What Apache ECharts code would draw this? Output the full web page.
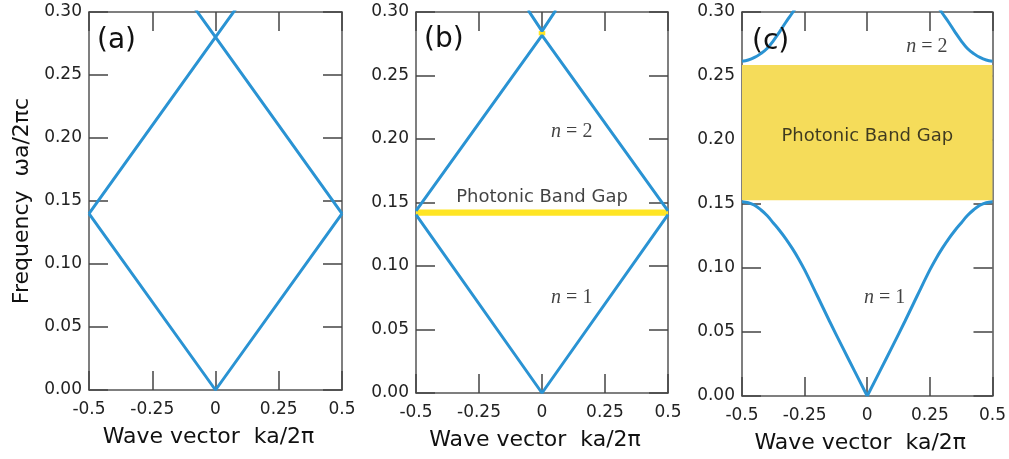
<!DOCTYPE html>
<html>
<head>
<meta charset="utf-8">
<script src="https://cdn.jsdelivr.net/npm/echarts@6/dist/echarts.min.js"></script>
<style>html,body{margin:0;padding:0;background:#fff}#c{width:1009px;height:459px}</style>
</head>
<body>
<div id="c"></div>
<script>
// ---------- data ----------
const xTicks = [-0.5, -0.25, 0, 0.25, 0.5];
const yTicks = [0, 0.05, 0.10, 0.15, 0.20, 0.25, 0.30];

// (a) empty lattice
const kA12 = [-0.5, 0, 0.5];
const wA1 = [0.14, 0, 0.14];
const wA2 = [0.14, 0.28, 0.14];
const kA3 = [-0.08, 0, 0.08];
const wA3 = [0.3024, 0.28, 0.3024];

// (b) weak contrast
const kB12 = [-0.5, 0, 0.5];
const wB1 = [0.1405, 0, 0.1405];
const wB2 = [0.1435, 0.2816, 0.1435];
const kB3 = [-0.055, 0, 0.055];
const wB3 = [0.3015, 0.285, 0.3015];
const gapB1 = [0.1395, 0.1445];
const gapB1k = [-0.5, 0.5];
const gapB2 = [0.2816, 0.285];
const gapB2k = [-0.013, 0.013];

// (c) strong contrast
const kC1L = [-0.5, -0.475, -0.45, -0.425, -0.4, -0.375, -0.35, -0.325, -0.3, -0.275, -0.25, -0.2, -0.15, -0.1, -0.05, 0];
const wC1L = [0.1518, 0.1510, 0.1490, 0.1455, 0.1410, 0.1352, 0.1293, 0.1228, 0.1155, 0.1075, 0.0985, 0.0785, 0.0582, 0.0386, 0.0192, 0];
const kC1R = [0, 0.05, 0.1, 0.15, 0.2, 0.25, 0.275, 0.3, 0.325, 0.35, 0.375, 0.4, 0.425, 0.45, 0.475, 0.5];
const wC1R = [0, 0.0192, 0.0386, 0.0582, 0.0785, 0.0985, 0.1075, 0.1155, 0.1228, 0.1293, 0.1352, 0.1410, 0.1455, 0.1490, 0.1510, 0.1518];
const kC2L = [-0.5, -0.475, -0.45, -0.425, -0.4, -0.375, -0.35, -0.325, -0.3, -0.28];
const wC2L = [0.2615, 0.2625, 0.2645, 0.2675, 0.2715, 0.2775, 0.2845, 0.292, 0.299, 0.305];
const kC2R = [0.28, 0.3, 0.325, 0.35, 0.375, 0.4, 0.425, 0.45, 0.475, 0.5];
const wC2R = [0.305, 0.299, 0.292, 0.2845, 0.2775, 0.2715, 0.2675, 0.2645, 0.2625, 0.2615];
const gapC = [0.153, 0.2585];
const gapCk = [-0.5, 0.5];

// ---------- helpers ----------
const pairs = (k, w) => k.map((x, i) => [x, w[i]]);
const BLUE = '#2a93d3';
const FRAME = '#555';
const FONT = 'DejaVu Sans';

const grids = [
  {left: 89, top: 12, width: 253, height: 378},
  {left: 416, top: 12, width: 252, height: 381},
  {left: 742, top: 12, width: 251, height: 384}
];

const xAxes = [], yAxes = [];
grids.forEach((g, gi) => {
  const base = {
    type: 'value', gridIndex: gi, min: -0.5, max: 0.5, interval: 0.25,
    axisLine: {show: true, onZero: false, lineStyle: {color: FRAME, width: 1.5}},
    axisTick: {show: true, inside: true, length: 19, lineStyle: {color: '#444', width: 1.5}},
    splitLine: {show: false}
  };
  xAxes.push(Object.assign({}, base, {
    position: 'bottom',
    axisLabel: {show: true, margin: 11, fontFamily: FONT, fontSize: 17, color: '#222',
      formatter: v => (Math.abs(v) < 1e-9 ? '0' : String(v))},
    name: 'Wave vector  ka/2\u03c0', nameLocation: 'middle', nameGap: 36,
    nameTextStyle: {fontFamily: FONT, fontSize: 22, color: '#111', padding: [0, 14, 0, 0]}
  }));
  xAxes.push(Object.assign({}, base, {position: 'top', axisLabel: {show: false}}));
  const ybase = {
    type: 'value', gridIndex: gi, min: 0, max: 0.3, interval: 0.05,
    axisLine: {show: true, onZero: false, lineStyle: {color: FRAME, width: 1.5}},
    axisTick: {show: true, inside: true, length: 19, lineStyle: {color: '#444', width: 1.5}},
    splitLine: {show: false}
  };
  const yl = Object.assign({}, ybase, {
    position: 'left',
    axisLabel: {show: true, margin: 7, fontFamily: FONT, fontSize: 17, color: '#222',
      formatter: v => v.toFixed(2)}
  });
  if (gi === 0) {
    yl.name = 'Frequency  \u03c9a/2\u03c0c';
    yl.nameLocation = 'middle';
    yl.nameGap = 56;
    yl.nameTextStyle = {fontFamily: FONT, fontSize: 22, color: '#111'};
  }
  yAxes.push(yl);
  yAxes.push(Object.assign({}, ybase, {position: 'right', axisLabel: {show: false}}));
});

function band(gi, data, smooth) {
  return {
    type: 'line', xAxisIndex: gi * 2, yAxisIndex: gi * 2, data: data,
    showSymbol: false, symbol: 'none', smooth: smooth ? 0.4 : false, clip: true, z: 3,
    lineStyle: {color: BLUE, width: 3}, silent: true, animation: false
  };
}
function gap(gi, krange, range, color) {
  return {
    type: 'line', xAxisIndex: gi * 2, yAxisIndex: gi * 2, data: [], z: 1,
    silent: true, animation: false,
    markArea: {silent: true, itemStyle: {color: color, opacity: 1},
      data: [[{xAxis: krange[0], yAxis: range[0]}, {xAxis: krange[1], yAxis: range[1]}]]}
  };
}
function note(gi, pt, text, serif) {
  return {
    type: 'scatter', xAxisIndex: gi * 2, yAxisIndex: gi * 2, data: [pt],
    symbolSize: 0, z: 5, silent: true, animation: false,
    label: serif ? {
      show: true, position: 'inside', formatter: text,
      fontFamily: 'Liberation Serif', fontSize: 20, color: '#111',
      rich: {i: {fontFamily: 'Liberation Serif', fontStyle: 'italic', fontSize: 20, color: '#111'}}
    } : {
      show: true, position: 'inside', formatter: text,
      fontFamily: FONT, fontSize: 18, color: '#111'
    }
  };
}

const series = [
  gap(1, gapB1k, gapB1, '#ffe524'),
  gap(1, gapB2k, gapB2, '#ffe524'),
  gap(2, gapCk, gapC, '#f5dc5a'),
  band(0, pairs(kA12, wA1)),
  band(0, pairs(kA12, wA2)),
  band(0, pairs(kA3, wA3)),
  band(1, pairs(kB12, wB1)),
  band(1, pairs(kB12, wB2)),
  band(1, pairs(kB3, wB3)),
  band(2, pairs(kC1L, wC1L), true),
  band(2, pairs(kC1R, wC1R), true),
  band(2, pairs(kC2L, wC2L), true),
  band(2, pairs(kC2R, wC2R), true),
  note(1, [0.118, 0.206], '{i|n} = 2', true),
  note(1, [0.118, 0.075], '{i|n} = 1', true),
  note(1, [0.0, 0.154], 'Photonic Band Gap', false),
  note(2, [0.238, 0.2725], '{i|n} = 2', true),
  note(2, [0.069, 0.0769], '{i|n} = 1', true),
  note(2, [0.0, 0.203], 'Photonic Band Gap', false)
];

const panelTitle = (t, left, top) => ({
  text: t, left: left, top: top, padding: 0,
  textStyle: {fontFamily: FONT, fontSize: 28, fontWeight: 'normal', color: '#111', lineHeight: 30}
});

const chart = echarts.init(document.getElementById('c'), null, {renderer: 'canvas'});
chart.setOption({
  animation: false,
  backgroundColor: '#fff',
  title: [panelTitle('(a)', 97, 26), panelTitle('(b)', 424, 25), panelTitle('(c)', 752, 27)],
  grid: grids,
  xAxis: xAxes,
  yAxis: yAxes,
  series: series
});
</script>
</body>
</html>
